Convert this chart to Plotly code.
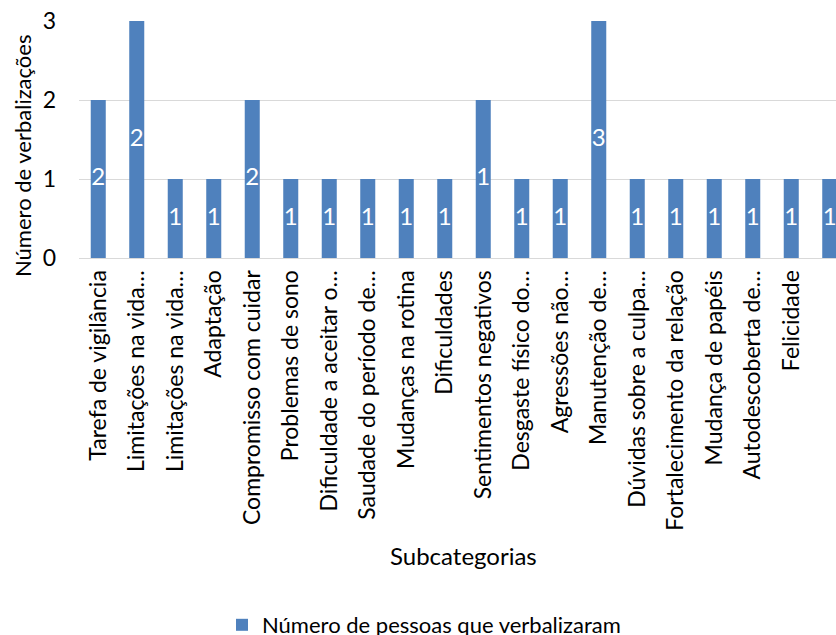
import plotly.graph_objects as go

# Subcategories (as shown on the axis, long names truncated)
subcategorias = [
    "Tarefa de vigilância",
    "Limitações na vida…",
    "Limitações na vida…",
    "Adaptação",
    "Compromisso com cuidar",
    "Problemas de sono",
    "Dificuldade a aceitar o…",
    "Saudade do período de…",
    "Mudanças na rotina",
    "Dificuldades",
    "Sentimentos negativos",
    "Desgaste físico do…",
    "Agressões não…",
    "Manutenção de…",
    "Dúvidas sobre a culpa…",
    "Fortalecimento da relação",
    "Mudança de papéis",
    "Autodescoberta de…",
    "Felicidade",
    "Reorganização familiar",
]

# Number of verbalizations per subcategory (bar heights)
verbalizacoes = [2, 3, 1, 1, 2, 1, 1, 1, 1, 1, 2, 1, 1, 3, 1, 1, 1, 1, 1, 1]

# Number of people who verbalized (labels inside the bars)
pessoas = [2, 2, 1, 1, 2, 1, 1, 1, 1, 1, 1, 1, 1, 3, 1, 1, 1, 1, 1, 1]

y_ticks = [0, 1, 2, 3]

FONT = "Lato"
BLUE = "#4F81BD"
GRID = "#D9D9D9"
W, H = 836, 635
ML, MT, MB = 79, 21, 377

positions = list(range(len(subcategorias)))

fig = go.Figure()

fig.add_trace(go.Bar(
    x=positions,
    y=verbalizacoes,
    width=0.39,
    marker=dict(color=BLUE, line=dict(width=0)),
    name="Número de pessoas que verbalizaram",
    showlegend=True,
    hoverinfo="skip",
))

# Centered value labels inside each bar
fig.add_trace(go.Scatter(
    x=positions,
    y=[v / 2 for v in verbalizacoes],
    mode="text",
    text=[str(p) for p in pessoas],
    textposition="middle center",
    textfont=dict(family=FONT, size=24, color="white"),
    showlegend=False,
    hoverinfo="skip",
))

plot_w = W - ML
slot = 38.5
x_end = plot_w / slot - 0.5

fig.update_layout(
    width=W,
    height=H,
    margin=dict(l=ML, r=0, t=MT, b=MB, autoexpand=False),
    paper_bgcolor="white",
    plot_bgcolor="white",
    font=dict(family=FONT, size=22, color="#000000"),
    showlegend=True,
    legend=dict(
        orientation="h",
        x=(222 - ML) / plot_w,
        xanchor="left",
        y=(MT + 237 - 625) / 237,
        yanchor="middle",
        font=dict(family=FONT, size=22, color="#000000"),
        bgcolor="rgba(0,0,0,0)",
    ),
    xaxis=dict(
        range=[-0.5, x_end],
        tickmode="array",
        tickvals=positions,
        ticktext=subcategorias,
        tickangle=-90,
        showgrid=False,
        showline=True,
        linecolor=GRID,
        linewidth=1,
        ticks="",
        ticklabelstandoff=2,
        tickfont=dict(family=FONT, size=23, color="#000000"),
        zeroline=False,
    ),
    yaxis=dict(
        range=[0, 3],
        tickmode="array",
        tickvals=y_ticks,
        showgrid=True,
        gridcolor=GRID,
        gridwidth=1,
        zeroline=False,
        showline=False,
        ticks="",
        ticklabelstandoff=22,
        tickfont=dict(family=FONT, size=23, color="#000000"),
    ),
    annotations=[
        dict(
            text="Número de verbalizações",
            xref="paper", yref="paper",
            x=(23 - ML) / plot_w, y=(MT + 237 - 156) / 237,
            xanchor="center", yanchor="middle",
            textangle=-90, showarrow=False,
            font=dict(family=FONT, size=22, color="#000000"),
        ),
        dict(
            text="Subcategorias",
            xref="paper", yref="paper",
            x=(463 - ML) / plot_w, y=(MT + 237 - 555) / 237,
            xanchor="center", yanchor="middle",
            showarrow=False,
            font=dict(family=FONT, size=24, color="#000000"),
        ),
    ],
)

fig.write_html("out.html")
